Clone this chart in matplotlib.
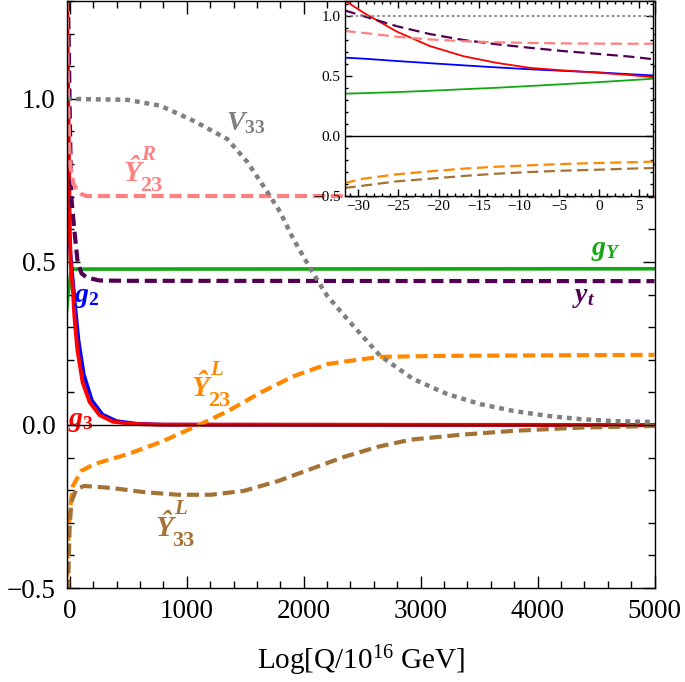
"""RG running of couplings above the GUT scale, with a zoom on the low end."""

import matplotlib

matplotlib.use("Agg")
import matplotlib.pyplot as plt
from matplotlib.ticker import MultipleLocator

# ---- main panel, values ----
gY_x = [-28, -15, 0, 10, 20, 5000]
gY_y = [0.35, 0.40, 0.44, 0.47, 0.478, 0.479]

g2_x = [-28, -15, 0, 7, 25, 45, 75, 120, 190, 280, 400, 570, 800, 5000]
g2_y = [0.70, 0.63, 0.56, 0.52, 0.45, 0.37, 0.26, 0.155, 0.075, 0.032, 0.012, 0.004, 0.001, 0.0]

g3_x = [-28, -20, -10, 0, 7, 25, 40, 65, 110, 170, 255, 370, 540, 770, 5000]
g3_y = [1.45, 1.2, 0.9, 0.6, 0.5, 0.42, 0.33, 0.23, 0.13, 0.07, 0.03, 0.01, 0.003, 0.001, 0.0]

yt_x = [-28, -10, 0, 8, 15, 41, 67, 100, 144, 255, 500, 5000]
yt_y = [1.45, 1.2, 0.95, 0.78, 0.69, 0.59, 0.50, 0.465, 0.452, 0.443, 0.442, 0.441]

y23R_x = [-28, -15, -5, 5, 15, 30, 58, 100, 144, 5000]
y23R_y = [1.35, 1.0, 0.85, 0.79, 0.776, 0.74, 0.724, 0.708, 0.702, 0.702]

y23L_x = [-28, -15, -2, 27, 98, 209, 500, 781, 1123, 1354, 1635, 1917, 2207, 2378, 2660, 3232, 5000]
y23L_y = [-0.52, -0.37, -0.27, -0.187, -0.141, -0.12, -0.089, -0.052, 0.003, 0.043, 0.10,
          0.15, 0.187, 0.196, 0.209, 0.212, 0.215]

y33L_x = [-28, -15, -2, 13, 56, 124, 354, 636, 927, 1208, 1490, 1781, 2062, 2344, 2634,
          2916, 3343, 3795, 4368, 5000]
y33L_y = [-0.62, -0.5, -0.32, -0.236, -0.196, -0.187, -0.193, -0.206, -0.214, -0.214, -0.202,
          -0.172, -0.135, -0.098, -0.067, -0.045, -0.03, -0.018, -0.008, -0.003]

v33_x = [-28, 0, 491, 774, 1056, 1346, 1517, 1688, 1799, 1910, 2081, 2201, 2372, 2654, 2936,
         3226, 3509, 3791, 4081, 4363, 4645, 5000]
v33_y = [1.0, 1.0, 0.997, 0.979, 0.933, 0.877, 0.807, 0.715, 0.653, 0.571, 0.465, 0.396, 0.325,
         0.212, 0.141, 0.095, 0.064, 0.043, 0.028, 0.018, 0.012, 0.009]

# ---- inset, values ----
in_x = [-31.7, -29.4, -25.2, -21.1, -16.9, -12.8, -8.6, -4.5, -0.3, 3.8, 6.7]
in_g3 = [1.13, 1.03, 0.87, 0.75, 0.665, 0.61, 0.568, 0.547, 0.528, 0.508, 0.49]
in_g2 = [0.653, 0.645, 0.625, 0.607, 0.589, 0.572, 0.556, 0.543, 0.531, 0.515, 0.505]
in_gY = [0.353, 0.357, 0.366, 0.377, 0.39, 0.402, 0.417, 0.432, 0.448, 0.465, 0.477]
in_yt = [1.047, 1.0, 0.915, 0.85, 0.80, 0.765, 0.735, 0.708, 0.685, 0.662, 0.64]
in_y23R = [0.875, 0.86, 0.827, 0.805, 0.79, 0.781, 0.776, 0.772, 0.77, 0.769, 0.769]
in_y23L = [-0.392, -0.356, -0.319, -0.294, -0.272, -0.256, -0.244, -0.233, -0.225, -0.219, -0.214]
in_y33L = [-0.433, -0.414, -0.378, -0.356, -0.333, -0.314, -0.30, -0.289, -0.281, -0.272, -0.267]
in_v33_x = [-31.7, 6.7]
in_v33_y = [1.0, 1.0]

# plain curve labels: (text, x, y) in main-panel data units
labels = {
    "V33": (r"$V_{\mathbf{33}}$", 1500, 0.926),
    "gY": (r"$g_{Y}$", 4585, 0.534),
    "yt": (r"$y_{t}$", 4389, 0.39),
    "g2": (r"$g_{\mathbf{2}}$", 141, 0.39),
    "g3": (r"$g_{\mathbf{3}}$", 98, 0.012),
}
# hatted Yukawa labels: (superscript, subscript, x, y of the centre of the Y)
hat_labels = {
    "Y23R": ("R", "23", 534, 0.776),
    "Y23L": ("L", "23", 1115, 0.117),
    "Y33L": ("L", "33", 810, -0.311),
}

GREEN = "#12a812"
BLUE = "#0000ff"
RED = "#ff0000"
PURPLE = "#520052"
PINK = "#ff8080"
ORANGE = "#ff8800"
BROWN = "#a57236"
GRAY = "#808080"
label_colors = {"V33": GRAY, "Y23R": PINK, "gY": GREEN, "yt": PURPLE,
                "g2": BLUE, "g3": RED, "Y23L": ORANGE, "Y33L": BROWN}

plt.rcParams.update({
    "font.family": ["Liberation Serif", "DejaVu Serif"],
    "mathtext.fontset": "custom",
    "mathtext.rm": "Liberation Serif",
    "mathtext.it": "Liberation Serif:italic:bold",
    "mathtext.bf": "Liberation Serif:bold",
})


def style_ticks(ax, xmaj, xmin, ymaj, ymin, size, big, small, pad):
    ax.xaxis.set_major_locator(MultipleLocator(xmaj))
    ax.xaxis.set_minor_locator(MultipleLocator(xmin))
    ax.yaxis.set_major_locator(MultipleLocator(ymaj))
    ax.yaxis.set_minor_locator(MultipleLocator(ymin))
    ax.tick_params(which="both", direction="in", top=True, right=True, width=1,
                   labelsize=size, pad=pad)
    ax.tick_params(which="major", length=big)
    ax.tick_params(which="minor", length=small)
    for s in ax.spines.values():
        s.set_linewidth(1)


def hat_label(ax, x, y, sup, sub, color):
    # Y-hat with a raised superscript and a lowered subscript, baselines in pixels
    px = 0.72  # points per pixel at dpi 100
    parts = [
        ("\u0176", 0, -9.5, 21, "italic"),
        (sup, 16, 12, 15, "italic"),
        (sub, 19, -19.5, 16, "normal"),
    ]
    for txt, dx, dy, size, style in parts:
        ax.annotate(txt, (x, y), xytext=(dx * px, dy * px), textcoords="offset points",
                    ha="center", va="baseline", color=color, fontsize=size,
                    fontstyle=style, fontweight="bold")


def main():
    fig = plt.figure(figsize=(6.85, 6.82), dpi=100)
    ax = fig.add_axes([0.0971, 0.1378, 0.8584, 0.8607])

    lw = 3
    dash = (2.9, 1.4)
    ax.plot(gY_x, gY_y, color=GREEN, lw=2.6)
    ax.plot(g2_x, g2_y, color=BLUE, lw=2.6)
    ax.plot(g3_x, g3_y, color=RED, lw=2.8)
    ax.plot(yt_x, yt_y, color=PURPLE, lw=lw, dashes=dash)
    ax.plot(y23R_x, y23R_y, color=PINK, lw=lw, dashes=dash)
    ax.plot(y23L_x, y23L_y, color=ORANGE, lw=lw, dashes=dash)
    ax.plot(y33L_x, y33L_y, color=BROWN, lw=lw, dashes=dash)
    ax.plot(v33_x, v33_y, color=GRAY, lw=3.2, dashes=(1.1, 1.1), dash_capstyle="butt")
    ax.axhline(0, color="black", lw=1, zorder=5)

    ax.set_xlim(-28, 5000)
    ax.set_ylim(-0.5, 1.30)
    style_ticks(ax, 1000, 200, 0.5, 0.1, 19.5, 9, 5, 8)
    ax.set_xlabel(r"Log[Q/10$^{16}$ GeV]", fontsize=21, labelpad=14)

    for key, (txt, x, y) in labels.items():
        ax.text(x, y, txt, color=label_colors[key], fontsize=20, ha="center", va="center")
    for key, (sup, sub, x, y) in hat_labels.items():
        hat_label(ax, x, y, sup, sub, label_colors[key])

    # inset: zoom on the low end
    ins = fig.add_axes([0.5036, 0.7126, 0.4497, 0.2859])
    ins.set_facecolor("white")
    ilw = 1.3
    ins.plot(in_x, in_gY, color=GREEN, lw=ilw)
    ins.plot(in_x, in_g2, color=BLUE, lw=ilw)
    ins.plot(in_x, in_g3, color=RED, lw=ilw)
    ins.plot(in_x, in_yt, color=PURPLE, lw=1.6, dashes=(5, 2.5))
    ins.plot(in_x, in_y23R, color=PINK, lw=1.6, dashes=(5, 2.5))
    ins.plot(in_x, in_y23L, color=ORANGE, lw=1.6, dashes=(5, 2.5))
    ins.plot(in_x, in_y33L, color=BROWN, lw=1.6, dashes=(5, 2.5))
    ins.plot(in_v33_x, in_v33_y, color=GRAY, lw=1.2, dashes=(1.6, 1.6))
    ins.axhline(0, color="black", lw=1)
    ins.set_xlim(-31.66, 6.7)
    ins.set_ylim(-0.5, 1.125)
    style_ticks(ins, 5, 1, 0.5, 0.1, 11, 5, 2.5, 3)

    fig.savefig("out.png", dpi=100)


if __name__ == "__main__":
    main()
